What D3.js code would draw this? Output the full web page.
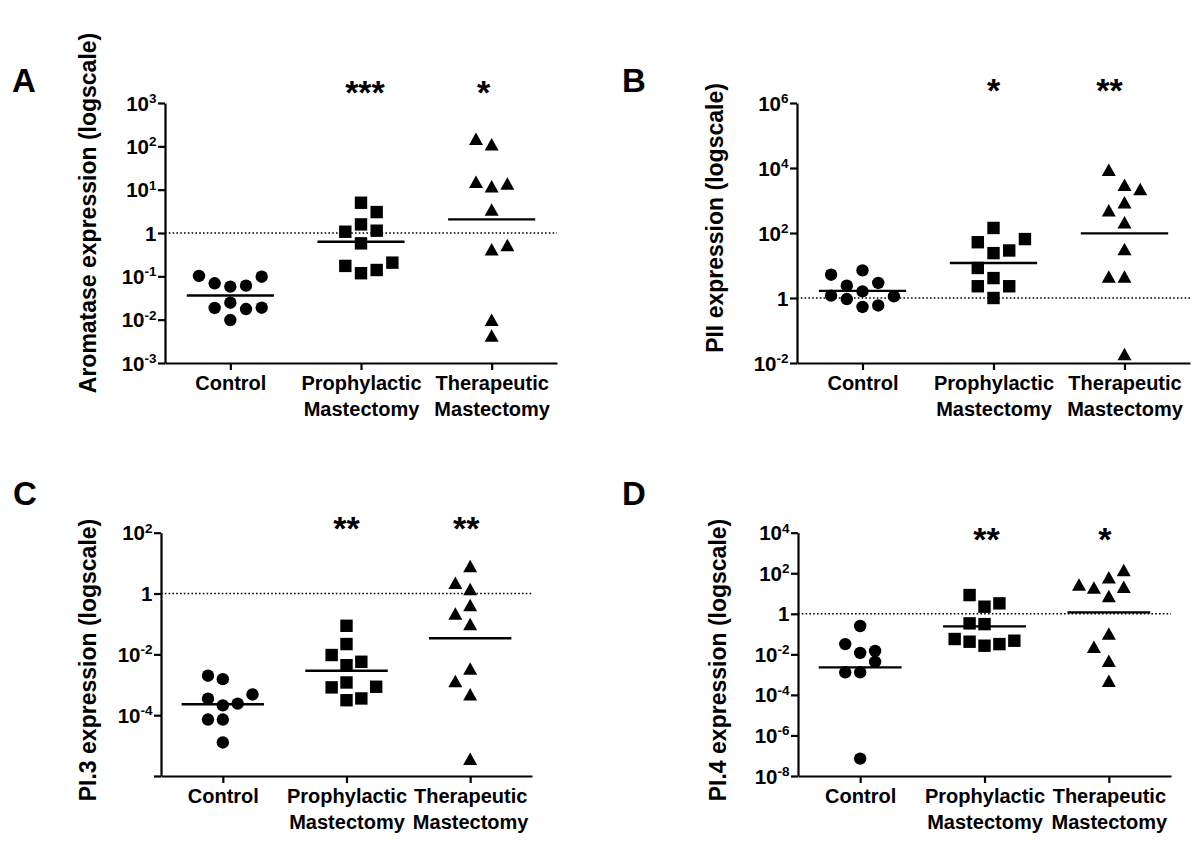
<!DOCTYPE html>
<html><head><meta charset="utf-8">
<script src="https://cdn.jsdelivr.net/npm/d3@7"></script>
<style>
body{margin:0;background:#fff}
svg{display:block}
text{font-family:"Liberation Sans",Arial,Helvetica,sans-serif;font-weight:bold;fill:#000}
</style>
</head><body>
<svg id="chart" width="1200" height="854"></svg>
<script>
// ---------- shared categories ----------
const groupLabels = [["Control"], ["Prophylactic", "Mastectomy"], ["Therapeutic", "Mastectomy"]];
const groupShapes = ["circle", "square", "triangle"];

// ---------- Panel A : Aromatase ----------
const aControl = [0.102, 0.098, 0.069, 0.058, 0.061, 0.0186, 0.0246, 0.0176, 0.0189, 0.0098];
const aControlSlot = [-2, 2, -1, 0, 1, -1, 0, 1, 2, 0];
const aProph = [4.99, 3.04, 1.58, 1.07, 1.13, 0.577, 0.174, 0.207, 0.118, 0.14];
const aProphSlot = [0, 1, 0, -1, 1, 0, -1, 2, 0, 1];
const aTher = [150, 112, 15.2, 12, 13.8, 3.5, 0.42, 0.53, 0.01, 0.0043];
const aTherSlot = [-1, 0, -1, 0, 1, 0, 0, 1, 0, 0];
const aTickExp = [-3, -2, -1, 0, 1, 2, 3];
const aLabelExp = [-3, -2, -1, 0, 1, 2, 3];
const aStars = ["", "***", "*"];

// ---------- Panel B : PII ----------
const bControl = [5.2, 7.1, 2.4, 2.9, 1.18, 1.6, 1.12, 0.93, 0.53, 0.59];
const bControlSlot = [-2, 0, -1, 1, -2, 0, 2, -1, 0, 1];
const bProph = [143, 52, 65, 24, 29, 8.4, 4.1, 2.3, 2.3, 1.0];
const bProphSlot = [0, -1, 2, 0, 1, -1, 0, -1, 1, 0];
const bTher = [8900, 3070, 2260, 880, 500, 213, 32, 4.6, 4.6, 0.019];
const bTherSlot = [-1, 0, 1, 0, -1, 0, 0, -1, 0, 0];
const bTickExp = [-2, 0, 2, 4, 6];
const bLabelExp = [-2, 0, 2, 4, 6];
const bStars = ["", "*", "**"];

// ---------- Panel C : PI.3 ----------
const cControl = [0.00198, 0.00153, 3.5e-4, 2.1e-4, 2.4e-4, 4.8e-4, 7.2e-5, 7.2e-5, 1.27e-5];
const cControlSlot = [-1, 0, -1, 0, 1, 2, -1, 0, 0];
const cProph = [0.087, 0.0218, 0.0095, 0.0057, 0.0044, 8.2e-4, 1.19e-3, 8.6e-4, 3.1e-4, 3.55e-4];
const cProphSlot = [0, 0, -1, 1, 0, -1, 0, 2, 0, 1];
const cTher = [8.0, 2.26, 1.4, 0.42, 0.22, 0.099, 3.4e-3, 1.32e-3, 4.9e-4, 3.7e-6];
const cTherSlot = [0, -1, 0, 0, -1, 0, 0, -1, 0, 0];
const cTickExp = [-6, -4, -2, 0, 2];
const cLabelExp = [-4, -2, 0, 2];
const cStars = ["", "**", "**"];

// ---------- Panel D : PI.4 ----------
const dControl = [0.25, 0.032, 0.0117, 0.0148, 0.0043, 1.3e-3, 1.3e-3, 7.2e-8];
const dControlSlot = [0, -1, 0, 1, 1, -1, 0, 0];
const dProph = [8.4, 2.24, 3.27, 0.337, 0.31, 0.057, 0.042, 0.0267, 0.032, 0.047];
const dProphSlot = [-1, 0, 1, -1, 0, -2, -1, 0, 1, 2];
const dTher = [144, 28, 63, 20, 21.7, 7.5, 0.108, 0.024, 4.9e-3, 5.0e-4];
const dTherSlot = [1, -2, 0, -1, 1, 0, 0, -1, 0, 0];
const dTickExp = [-8, -6, -4, -2, 0, 2, 4];
const dLabelExp = [-8, -6, -4, -2, 0, 2, 4];
const dStars = ["", "**", "*"];

// ---------- layout ----------
const panels = [
  {letter: "A", title: "Aromatase expression (logscale)",
   values: [aControl, aProph, aTher], slots: [aControlSlot, aProphSlot, aTherSlot],
   domain: [1e-3, 1e3], ticks: aTickExp, labels: aLabelExp, stars: aStars,
   box: {left: 165, right: 557, top: 103, bottom: 363},
   letterPos: [12, 92], titlePos: [96, 213], starY: 104, starDx: [0, 4, -8]},
  {letter: "B", title: "PII expression (logscale)",
   values: [bControl, bProph, bTher], slots: [bControlSlot, bProphSlot, bTherSlot],
   domain: [1e-2, 1e6], ticks: bTickExp, labels: bLabelExp, stars: bStars,
   box: {left: 797, right: 1190, top: 103, bottom: 363},
   letterPos: [622, 92], titlePos: [723, 218], starY: 102, starDx: [0, 0, -15]},
  {letter: "C", title: "PI.3 expression (logscale)",
   values: [cControl, cProph, cTher], slots: [cControlSlot, cProphSlot, cTherSlot],
   domain: [1e-6, 1e2], ticks: cTickExp, labels: cLabelExp, stars: cStars,
   box: {left: 161, right: 532, top: 532.7, bottom: 776},
   letterPos: [13, 505], titlePos: [96, 660], starY: 540, starDx: [0, 0, -4]},
  {letter: "D", title: "PI.4 expression (logscale)",
   values: [dControl, dProph, dTher], slots: [dControlSlot, dProphSlot, dTherSlot],
   domain: [1e-8, 1e4], ticks: dTickExp, labels: dLabelExp, stars: dStars,
   box: {left: 798, right: 1171, top: 532.7, bottom: 776},
   letterPos: [622, 505], titlePos: [726, 660], starY: 551, starDx: [0, 2, -4]}
];

const svg = d3.select("#chart");
svg.append("rect").attr("width", 1200).attr("height", 854).attr("fill", "#fff");

function drawPanel(p) {
  const g = svg.append("g");
  const y = d3.scaleLog().domain(p.domain).range([p.box.bottom, p.box.top]);
  const x = d3.scalePoint().domain([0, 1, 2]).range([p.box.left, p.box.right]).padding(0.5);
  const step = x.step();
  const slotW = step * 0.12;

  // dotted reference line at 1
  g.append("line")
    .attr("x1", p.box.left).attr("x2", p.box.right)
    .attr("y1", y(1)).attr("y2", y(1))
    .attr("stroke", "#000").attr("stroke-width", 1.6)
    .attr("stroke-dasharray", "1.6,2.2");

  // y axis
  const ya = d3.axisLeft(y)
    .tickValues(p.ticks.map(e => Math.pow(10, e)))
    .tickSize(7).tickSizeOuter(0).tickFormat("");
  const yg = g.append("g").attr("transform", `translate(${p.box.left},0)`).call(ya);
  yg.selectAll("path,line").attr("stroke", "#000").attr("stroke-width", 2.2);
  yg.selectAll(".tick").each(function (d) {
    const e = Math.round(Math.log10(d));
    if (!p.labels.includes(e)) return;
    const t = d3.select(this).append("text")
      .attr("x", -8.5).attr("y", 7)
      .attr("text-anchor", "end")
      .attr("font-size", 20.5);
    if (e === 0) { t.text("1"); return; }
    t.append("tspan").text("10");
    t.append("tspan").attr("dy", -7.5).attr("font-size", 13.5).text(String(e));
  });

  // x axis
  const xa = d3.axisBottom(x).tickSize(7).tickSizeOuter(0).tickFormat("");
  const xg = g.append("g").attr("transform", `translate(0,${p.box.bottom})`).call(xa);
  xg.selectAll("path,line").attr("stroke", "#000").attr("stroke-width", 2.2);
  xg.selectAll(".tick").each(function (d) {
    const t = d3.select(this).append("text").attr("text-anchor", "middle").attr("font-size", 20);
    groupLabels[d].forEach((line, k) => {
      t.append("tspan").attr("x", 0).attr("y", 27 + k * 25.5).text(line);
    });
  });

  // points
  p.values.forEach((vals, gi) => {
    const cx0 = x(gi);
    const shape = groupShapes[gi];
    vals.forEach((v, j) => {
      const cx = cx0 + p.slots[gi][j] * slotW;
      const cy = y(v);
      if (shape === "circle") {
        g.append("circle").attr("cx", cx).attr("cy", cy).attr("r", 6.2).attr("fill", "#000");
      } else if (shape === "square") {
        g.append("rect").attr("x", cx - 6.2).attr("y", cy - 6.2).attr("width", 12.4).attr("height", 12.4).attr("fill", "#000");
      } else {
        const w = 14, h = 12.5;
        g.append("path")
          .attr("d", `M${cx},${cy - h / 2}L${cx + w / 2},${cy + h / 2}L${cx - w / 2},${cy + h / 2}Z`)
          .attr("fill", "#000");
      }
    });
    // geometric mean line
    const gm = Math.pow(10, d3.mean(vals, v => Math.log10(v)));
    g.append("line")
      .attr("x1", cx0 - step / 3).attr("x2", cx0 + step / 3)
      .attr("y1", y(gm)).attr("y2", y(gm))
      .attr("stroke", "#000").attr("stroke-width", 2.4);
    // significance stars
    if (p.stars[gi]) {
      g.append("text").attr("x", cx0 + p.starDx[gi]).attr("y", p.starY)
        .attr("text-anchor", "middle").attr("font-size", 34).text(p.stars[gi]);
    }
  });

  // y title
  g.append("text")
    .attr("transform", `translate(${p.titlePos[0]},${p.titlePos[1]}) rotate(-90)`)
    .attr("text-anchor", "middle").attr("font-size", 23)
    .text(p.title);

  // panel letter
  g.append("text").attr("x", p.letterPos[0]).attr("y", p.letterPos[1])
    .attr("font-size", 33).text(p.letter);
}

panels.forEach(drawPanel);
</script>
</body></html>
